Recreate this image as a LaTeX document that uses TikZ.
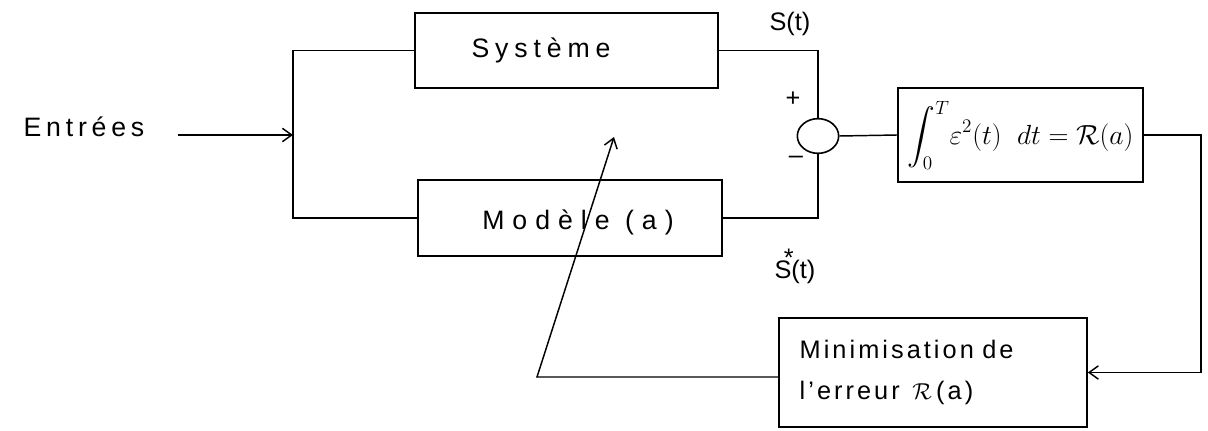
\documentclass[tikz,border=0pt]{standalone}
\usepackage{exscale}
\usepackage{fontspec}
\setmainfont{Liberation Sans}
\usetikzlibrary{shapes.geometric,arrows.meta}
\begin{document}
\begin{tikzpicture}[x=0.75pt,y=-0.75pt,
  line width=1.1pt,
  blk/.style={draw,line width=1.2pt,rectangle,inner sep=0pt},
  lbl/.style={font=\fontsize{19}{22}\selectfont},
  sp/.style={font=\fontsize{20}{22}\selectfont\addfontfeature{LetterSpace=#1}},
  arr/.style={-{Straight Barb[length=7pt,width=10pt,line width=1.1pt]}}]
\useasboundingbox (0,0) rectangle (1208,431);
% blocks
\node[blk,minimum width=227pt,minimum height=56pt] (sys) at (566.5,50.5) {};
\node[sp=22] (systxt) at (541,50) {Système};
\node[blk,minimum width=228pt,minimum height=57pt] (mod) at (570,218) {};
\node[sp=30] (modtxt) at (578,222) {Modèle (a)};
\node[draw,line width=1.2pt,ellipse,minimum width=31pt,minimum height=26pt,inner sep=0pt] (sum) at (818,136) {};
\node[blk,minimum width=184pt,minimum height=70.5pt,font=\fontsize{21}{24}\selectfont] (int) at (1020.5,135)
  {$\displaystyle\int_0^T\!\varepsilon^2(t)\;\;dt = \mathcal{R}(a)$};
\node[blk,minimum width=231pt,minimum height=82pt,align=left,text width=200pt,
  font=\fontsize{19}{31}\selectfont\addfontfeature{LetterSpace=12}] (min) at (933,372.5)
  {Minimisation de\\ l'erreur \,$\mathcal{R}$\,(a)};
% labels
\node[sp=18] (entrees) at (84,127) {Entrées};
\node[lbl] (st) at (790,24) {S(t)};
\node[lbl] (sst) at (795,266) {S\rlap{\raisebox{0.9ex}{\kern-0.3em*}}(t)};
\node[lbl] (plus) at (793,99) {+};
\node[lbl] (minus) at (796,160) {--};
% coordinates
\coordinate (in) at (178,135);
\coordinate (bus) at (293,135);
\coordinate (rt) at (1201,0);
\coordinate (fb) at (537,377);
\coordinate (tip) at (614,137);
% connectors
\draw[arr] (in) -- (bus);
\draw (sys.west) -- (sys.west -| bus) -- (mod.west -| bus) -- (mod.west);
\draw (sys.east) -| (sum.north);
\draw (mod.east) -| (sum.south);
\draw (sum.east) -- (int.west);
\draw[arr] (int.east) -| (rt |- min.east) -- (min.east);
\draw[arr] (min.west |- fb) -- (fb) -- (tip);
\end{tikzpicture}
\end{document}
